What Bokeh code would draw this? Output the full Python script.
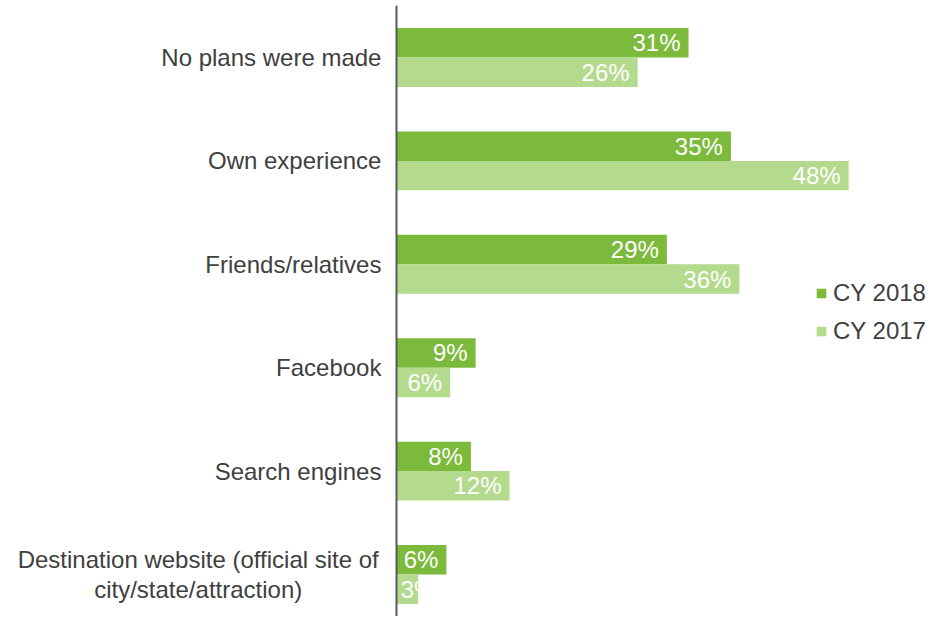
from bokeh.plotting import figure
from bokeh.models import ColumnDataSource, Range1d, Legend, LegendItem, Span
from bokeh.core.properties import value
from bokeh.embed import file_html
from bokeh.resources import INLINE

categories = ["No plans were made", "Own experience", "Friends/relatives",
              "Facebook", "Search engines",
              "Destination website (official site of\ncity/state/attraction)"]
cy2018 = [31.0, 35.5, 28.7, 8.4, 7.9, 5.3]
cy2017 = [25.6, 48.0, 36.4, 5.7, 12.0, 2.3]
labels2018 = ["31%", "35%", "29%", "9%", "8%", "6%"]
labels2017 = ["26%", "48%", "36%", "6%", "12%", "3%"]
series_names = ["CY 2018", "CY 2017"]

DARK = "#7BBA3A"
LIGHT = "#B4DA8E"
FONT = "Liberation Sans"
TEXT = "#404040"

idx = list(range(len(categories)))
off = 0.1425
h = 0.285

def label_pos(vals):
    xs, al = [], []
    for v in vals:
        if v > 4:
            xs.append(v - 0.85); al.append("right")
        else:
            xs.append(0.45); al.append("left")
    return xs, al

x18, a18 = label_pos(cy2018)
x17, a17 = label_pos(cy2017)

src18 = ColumnDataSource(dict(y=[i - off for i in idx], v=cy2018, lx=x18, al=a18, t=labels2018))
src17 = ColumnDataSource(dict(y=[i + off for i in idx], v=cy2017, lx=x17, al=a17, t=labels2017))

# category label placement (layout only)
cat_x = [-1.6 if "\n" not in c else -21.05 for c in categories]
cat_al = ["right" if "\n" not in c else "center" for c in categories]
src_cat = ColumnDataSource(dict(x=cat_x, y=idx, t=categories, al=cat_al))

p = figure(width=940, height=616, output_backend="svg", toolbar_location=None,
           x_range=Range1d(-42.04, 57.75), y_range=Range1d(5.406, -0.5029),
           x_axis_location=None, y_axis_location=None,
           min_border_left=0, min_border_right=0,
           min_border_top=5, min_border_bottom=0)
p.outline_line_color = None
p.xgrid.visible = False
p.ygrid.visible = False

r18 = p.hbar(y="y", right="v", left=0, height=h, source=src18, fill_color=DARK, line_color=None)
r17 = p.hbar(y="y", right="v", left=0, height=h, source=src17, fill_color=LIGHT, line_color=None)

for s in (src18, src17):
    p.text(x="lx", y="y", text="t", source=s, text_align="al", text_baseline="middle",
           text_color="white", text_font=value(FONT), text_font_size="24px")

p.text(x="x", y="y", text="t", source=src_cat, text_align="al", text_baseline="middle",
       text_color=TEXT, text_font=value(FONT), text_font_size="24px", text_line_height=1.1)

p.add_layout(Span(location=0, dimension="height", line_color="#595959", line_width=2))

legend = Legend(items=[LegendItem(label=series_names[0], renderers=[r18]),
                       LegendItem(label=series_names[1], renderers=[r17])],
                location=(815, 271))
legend.glyph_width = 12
legend.glyph_height = 12
legend.label_standoff = 6
legend.padding = 0
legend.margin = 0
legend.spacing = 10
legend.border_line_color = None
legend.background_fill_alpha = 0
legend.label_text_font = FONT
legend.label_text_font_size = "24px"
legend.label_text_color = TEXT
p.add_layout(legend, "center")

open("out.html", "w").write(file_html(p, INLINE))
